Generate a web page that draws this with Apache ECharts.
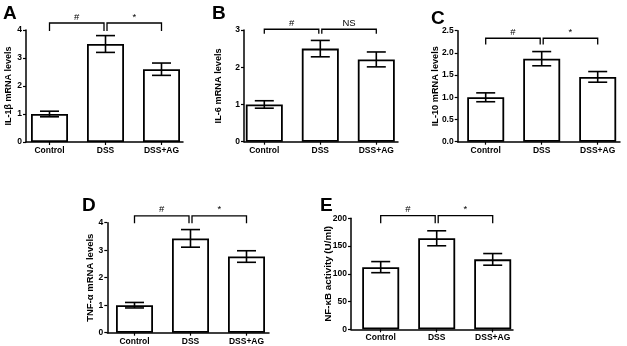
<!DOCTYPE html>
<html><head><meta charset="utf-8">
<script src="https://cdn.jsdelivr.net/npm/echarts/dist/echarts.min.js"></script>
<style>html,body{margin:0;padding:0;background:#fff}#c{width:627px;height:346px}</style>
</head><body><div id="c"></div>
<script>
// ---- data ----
const categories = ['Control', 'DSS', 'DSS+AG'];

const il1bMean = [1.0, 3.5, 2.6];
const il1bErr = [0.1, 0.3, 0.22];
const il1bSig = ['#', '*'];
const il1bBracket = [4.25, 3.96];
const il1bTicks = [0, 4, 1];

const il6Mean = [1.0, 2.5, 2.21];
const il6Err = [0.1, 0.22, 0.2];
const il6Sig = ['#', 'NS'];
const il6Bracket = [3.02, 2.9];
const il6Ticks = [0, 3, 1];

const il10Mean = [1.0, 1.87, 1.46];
const il10Err = [0.1, 0.16, 0.12];
const il10Sig = ['#', '*'];
const il10Bracket = [2.33, 2.19];
const il10Ticks = [0, 2.5, 0.5];

const tnfMean = [1.0, 3.43, 2.77];
const tnfErr = [0.1, 0.32, 0.21];
const tnfSig = ['#', '*'];
const tnfBracket = [4.25, 3.98];
const tnfTicks = [0, 4, 1];

const nfkbMean = [112, 164, 126];
const nfkbErr = [10, 13.5, 10.5];
const nfkbSig = ['#', '*'];
const nfkbBracket = [204.7, 191];
const nfkbTicks = [0, 200, 50];

// ---- layout (pixels) ----
const panels = [
  {letter: 'A', name: 'IL-1β mRNA levels', mean: il1bMean, err: il1bErr, sig: il1bSig, br: il1bBracket, ticks: il1bTicks, dec: 0,
   L: {axisX: 26, right: 183, top: 30, bottom: 142, c0: 49.5, lx: 3, ly: 4, gap: 13, fs: 9}},
  {letter: 'B', name: 'IL-6 mRNA levels', mean: il6Mean, err: il6Err, sig: il6Sig, br: il6Bracket, ticks: il6Ticks, dec: 0,
   L: {axisX: 244, right: 398, top: 30, bottom: 141.7, c0: 264.3, lx: 212, ly: 4, gap: 21, fs: 9.2}},
  {letter: 'C', name: 'IL-10 mRNA levels', mean: il10Mean, err: il10Err, sig: il10Sig, br: il10Bracket, ticks: il10Ticks, dec: 1,
   L: {axisX: 457.7, right: 620, top: 30.7, bottom: 141.7, c0: 485.7, lx: 431, ly: 9, gap: 18, fs: 9.2}},
  {letter: 'D', name: 'TNF-α mRNA levels', mean: tnfMean, err: tnfErr, sig: tnfSig, br: tnfBracket, ticks: tnfTicks, dec: 0,
   L: {axisX: 107.3, right: 269, top: 222.7, bottom: 332.7, c0: 134.5, lx: 82, ly: 196, gap: 12, fs: 9.5}},
  {letter: 'E', name: 'NF-κB activity (U/ml)', mean: nfkbMean, err: nfkbErr, sig: nfkbSig, br: nfkbBracket, ticks: nfkbTicks, dec: 0,
   L: {axisX: 351, right: 513, top: 218.3, bottom: 329.3, c0: 380.7, lx: 320, ly: 196, gap: 18, fs: 9.8}}
];

const FONT = '"Liberation Sans", Arial, sans-serif';
const SPACING = 56;
const BLACK = '#000';

const grid = [], xAxis = [], yAxis = [], series = [], title = [];

panels.forEach((p, k) => {
  const L = p.L;
  const h = L.bottom - L.top;
  grid.push({left: L.axisX, top: L.top, width: L.right - L.axisX, height: h});
  grid.push({left: L.c0 - SPACING / 2, top: L.top, width: SPACING * 3, height: h});
  xAxis.push({gridIndex: 2 * k, type: 'value', min: 0, max: 1,
    axisLine: {show: true, lineStyle: {color: BLACK, width: 1.5}},
    axisTick: {show: false}, axisLabel: {show: false}, splitLine: {show: false}});
  xAxis.push({gridIndex: 2 * k + 1, type: 'category', data: categories,
    axisLine: {show: false},
    axisTick: {show: true, alignWithLabel: true, length: 3, lineStyle: {color: BLACK, width: 1.2}},
    axisLabel: {color: BLACK, fontFamily: FONT, fontWeight: 'bold', fontSize: 8.5, margin: 4}});
  yAxis.push({gridIndex: 2 * k, type: 'value', min: p.ticks[0], max: p.ticks[1], interval: p.ticks[2],
    name: p.name, nameLocation: 'middle', nameGap: L.gap, nameMoveOverlap: false,
    nameTextStyle: {color: BLACK, fontFamily: FONT, fontWeight: 'bold', fontSize: L.fs},
    axisLine: {show: true, lineStyle: {color: BLACK, width: 1.5}},
    axisTick: {show: true, length: 3, lineStyle: {color: BLACK, width: 1.2}},
    axisLabel: {color: BLACK, fontFamily: FONT, fontWeight: 'bold', fontSize: 8.5, margin: 4,
      formatter: v => v.toFixed(p.dec)},
    splitLine: {show: false}});
  yAxis.push({gridIndex: 2 * k + 1, type: 'value', min: p.ticks[0], max: p.ticks[1], show: false,
    splitLine: {show: false}});

  title.push({text: p.letter, left: L.lx, top: L.ly, padding: 0,
    textStyle: {fontFamily: FONT, fontWeight: 'bold', fontSize: 19, color: BLACK}});

  series.push({type: 'bar', xAxisIndex: 2 * k + 1, yAxisIndex: 2 * k + 1, barWidth: 37,
    data: p.mean, itemStyle: {color: '#fff', borderColor: BLACK, borderWidth: 1.8}, silent: true, z: 2});

  series.push({type: 'custom', xAxisIndex: 2 * k + 1, yAxisIndex: 2 * k + 1, z: 3, silent: true,
    data: p.mean.map((m, i) => [i, m, p.err[i]]),
    renderItem: (params, api) => {
      const i = api.value(0), m = api.value(1), e = api.value(2);
      const hi = api.coord([i, m + e]), lo = api.coord([i, m - e]);
      const x = hi[0], hw = 9.5;
      const st = {stroke: BLACK, lineWidth: 1.6};
      return {type: 'group', children: [
        {type: 'line', shape: {x1: x, y1: hi[1], x2: x, y2: lo[1]}, style: st},
        {type: 'line', shape: {x1: x - hw, y1: hi[1], x2: x + hw, y2: hi[1]}, style: st},
        {type: 'line', shape: {x1: x - hw, y1: lo[1], x2: x + hw, y2: lo[1]}, style: st}
      ]};
    }});

  series.push({type: 'custom', xAxisIndex: 2 * k + 1, yAxisIndex: 2 * k + 1, z: 3, silent: true, clip: false,
    data: [[0, 1], [1, 2]],
    renderItem: (params, api) => {
      const a = api.value(0), b = api.value(1);
      const idx = params.dataIndex;
      const top1 = api.coord([a, p.br[0]]), top2 = api.coord([b, p.br[0]]);
      const end = api.coord([a, p.br[1]]);
      const x1 = top1[0] + (idx === 1 ? 1.5 : 0);
      const x2 = top2[0] - (idx === 0 ? 1.5 : 0);
      const y = top1[1], ye = end[1];
      const st = {stroke: BLACK, lineWidth: 1.3};
      return {type: 'group', children: [
        {type: 'polyline', shape: {points: [[x1, ye], [x1, y], [x2, y], [x2, ye]]}, style: Object.assign({fill: null}, st)},
        {type: 'text', x: (x1 + x2) / 2, y: y - 1,
          style: {text: p.sig[idx], fill: BLACK, font: '9.5px ' + FONT, textAlign: 'center', textVerticalAlign: 'bottom'}}
      ]};
    }});
});

const chart = echarts.init(document.getElementById('c'), null, {renderer: 'canvas'});
chart.setOption({animation: false, backgroundColor: '#fff', title, grid, xAxis, yAxis, series});
</script>
</body></html>
